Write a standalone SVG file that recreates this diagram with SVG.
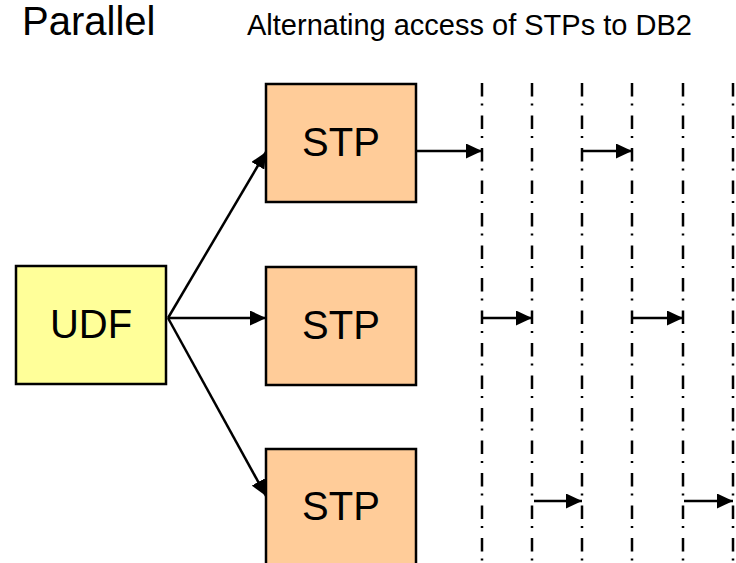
<svg xmlns="http://www.w3.org/2000/svg" width="736" height="563" viewBox="0 0 736 563">
<defs>
<style>
text{font-family:"Liberation Sans",Arial,sans-serif;fill:#000}
.node rect{stroke:#000;stroke-width:2.5}
.udf rect{fill:#FFFF99}
.stp rect{fill:#FFCC99}
.lbl{font-size:40px;text-anchor:middle}
.conn line{stroke:#000;stroke-width:2.5;marker-end:url(#ah)}
.time line{stroke:#000;stroke-width:2.5;stroke-dasharray:13.5 7 2 10}
</style>
<marker id="ah" markerUnits="userSpaceOnUse" viewBox="0 0 16 15" refX="16" refY="7.5" markerWidth="16" markerHeight="15" orient="auto">
<path d="M0,0 L16,7.5 L0,15 Z" fill="#000"/>
</marker>
</defs>
<rect width="736" height="563" fill="#fff"/>
<text x="22" y="35" font-size="40">Parallel</text>
<text x="247" y="35" font-size="29">Alternating access of STPs to DB2</text>
<g class="time">
<line x1="482" y1="83" x2="482" y2="563"/>
<line x1="532" y1="83" x2="532" y2="563"/>
<line x1="582" y1="83" x2="582" y2="563"/>
<line x1="632" y1="83" x2="632" y2="563"/>
<line x1="683" y1="83" x2="683" y2="563"/>
<line x1="733" y1="83" x2="733" y2="563"/>
</g>
<g id="udf" class="node udf">
<rect x="16" y="266" width="150" height="118"/>
<text class="lbl" x="91" y="338">UDF</text>
</g>
<g id="stp1" class="node stp">
<rect x="266" y="84" width="150" height="118"/>
<text class="lbl" x="341" y="156">STP</text>
</g>
<g id="stp2" class="node stp">
<rect x="266" y="267" width="150" height="118"/>
<text class="lbl" x="341" y="339">STP</text>
</g>
<g id="stp3" class="node stp">
<rect x="266" y="449" width="150" height="118"/>
<text class="lbl" x="341" y="520">STP</text>
</g>
<g class="conn">
<line x1="168" y1="318" x2="266" y2="152"/>
<line x1="168" y1="318" x2="266" y2="318"/>
<line x1="168" y1="318" x2="266" y2="496"/>
<line x1="417" y1="151" x2="482" y2="151"/>
<line x1="583" y1="151" x2="632" y2="151"/>
<line x1="483" y1="318" x2="532" y2="318"/>
<line x1="633" y1="318" x2="683" y2="318"/>
<line x1="534" y1="501" x2="582" y2="501"/>
<line x1="684" y1="501" x2="733" y2="501"/>
</g>
</svg>
